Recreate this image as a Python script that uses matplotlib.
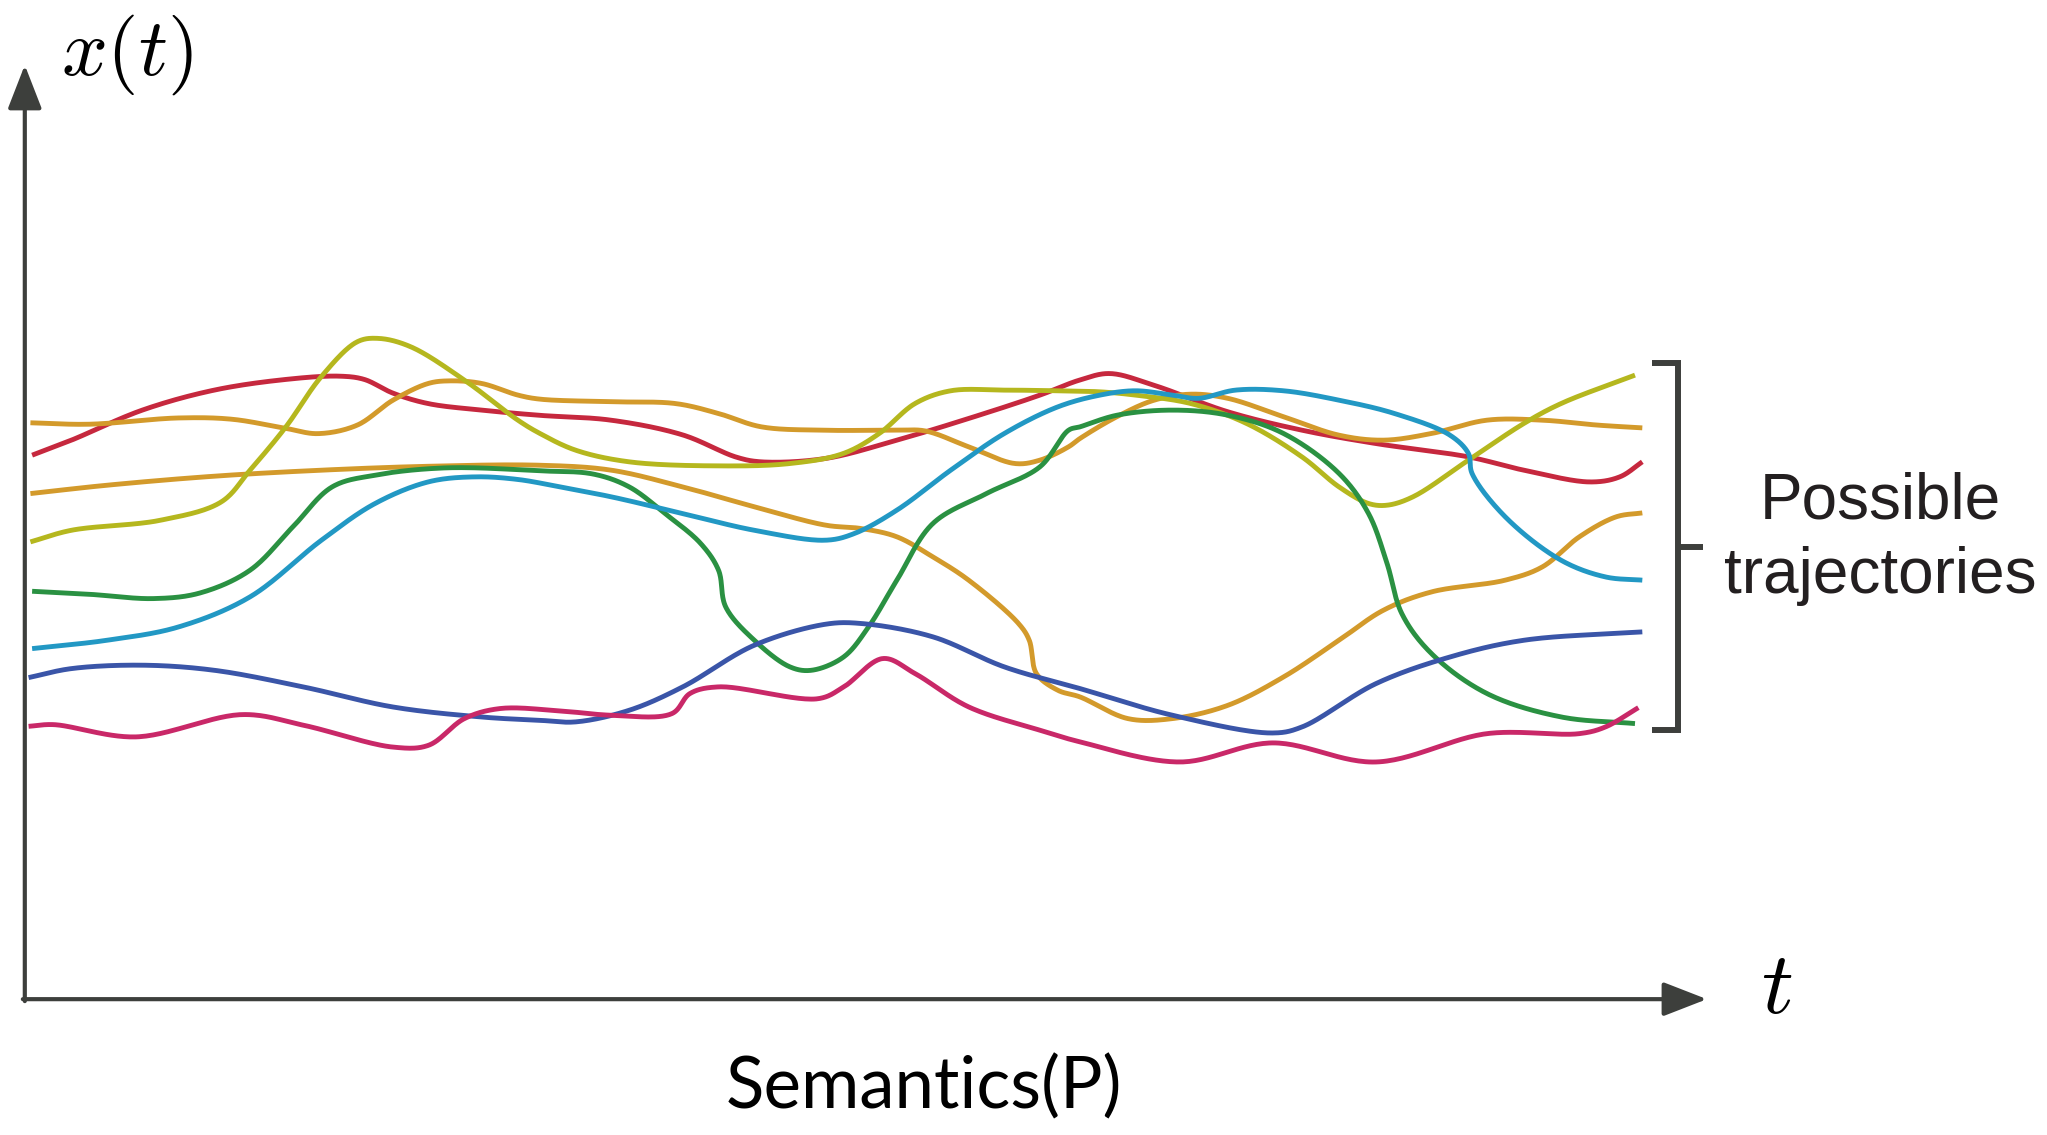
import numpy as np
import matplotlib
matplotlib.use("Agg")
import matplotlib.pyplot as plt

plt.rcParams['mathtext.fontset'] = 'cm'

# ---- data: time t and value x(t) for each trajectory (arbitrary units) ----
red_t = [5.6, 35.7, 90, 145, 200, 241, 260, 282, 309, 350, 394.6, 449, 504, 545, 564, 613.5, 668, 723, 777.6, 808, 831, 865, 921.6, 978, 1035, 1105.8, 1148.3, 1199.4, 1222, 1239]
red_x = [416.5, 428, 451, 466.3, 474.5, 477, 474.5, 464, 456, 451, 447, 443.3, 432, 415, 411.4, 414, 428, 444.6, 462.5, 474, 479, 470, 449.7, 435.7, 425.4, 415.2, 405, 396, 400, 411.4]

goldA_t = [4.3, 49.4, 117.8, 158.8, 200, 224.5, 254.6, 282, 309, 325.7, 350, 377.7, 394.6, 449.3, 498.6, 531.4, 564.2, 613.5, 668, 690, 723, 758.5, 777.6, 799.5, 808.3, 836.6, 865, 893.3, 921.6, 964, 1006.7, 1040.7, 1077.5, 1120, 1162.5, 1205, 1239]
goldA_x = [441.3, 440.2, 445, 444, 437, 433, 439.5, 458.6, 471.4, 473.4, 471.4, 462.5, 459.4, 457.4, 456, 448.4, 438.2, 435.6, 435.6, 435, 422.9, 410.1, 412.7, 422.9, 429.3, 446, 458.6, 463.2, 460, 446, 431.8, 428, 433.1, 443.3, 443.3, 439.5, 437.4]

goldB_t = [4.3, 63, 145, 227, 309, 394.6, 449.3, 504, 558.8, 613.5, 640.8, 668, 695.6, 723, 761.2, 769.4, 774.9, 791.3, 808.3, 845, 879, 921.6, 964.2, 1006.7, 1040.7, 1077.5, 1134, 1162.5, 1190.8, 1219, 1239]
goldB_x = [387.1, 393.5, 400.4, 405, 408, 408.8, 405, 392.2, 377, 362.9, 360.3, 354, 338.6, 320.8, 287.6, 274.8, 249.3, 236.5, 231.4, 214.8, 214.8, 225, 246.7, 274.8, 297.8, 311.8, 320.8, 331, 354, 369.3, 372.3]

yellow_t = [4.3, 35.7, 104, 150.6, 172.5, 200, 227, 254.6, 271, 295.6, 336.7, 377.7, 394.6, 422, 463, 531.4, 586, 627, 654.5, 682, 709.2, 750, 791.3, 823.6, 850.8, 893.3, 935.8, 978.3, 1006.7, 1029.3, 1043.5, 1063.3, 1105.8, 1148.3, 1176.7, 1233.4]
yellow_x = [350.1, 359, 366.7, 380.8, 405, 438.2, 476.5, 503.3, 505.9, 499.5, 474, 443.3, 433.1, 420.3, 411.4, 408.3, 410.1, 417.8, 433.1, 456.1, 465.8, 466.3, 465.8, 465, 462.5, 456, 440.8, 415.2, 392.2, 379.5, 378.2, 384.6, 412.7, 440.8, 456, 477.8]

green_t = [5.6, 49.4, 98.6, 134.2, 172.5, 205.3, 235.4, 268.3, 323, 394.6, 435.6, 463, 490.4, 517.7, 531.4, 536.9, 558.8, 586.1, 602.5, 627.2, 646.3, 668, 695.6, 736.6, 777.6, 799.5, 808.3, 836.6, 879.1, 921.6, 964.2, 1006.7, 1029.3, 1043.5, 1054.8, 1077.5, 1120, 1176.7, 1233.4]
green_x = [312.3, 310, 306.7, 311, 328.4, 361.6, 392.2, 401.2, 406.8, 404.5, 402, 392.2, 371.8, 348.9, 328.4, 300.3, 274.8, 254.4, 251.8, 262, 285, 320.8, 364.2, 387.1, 407.6, 435.6, 438.2, 447.1, 451, 447.1, 433.1, 402.5, 371.8, 333.5, 295.2, 264.6, 234, 216.1, 211]

cyan_t = [5.6, 63, 117.8, 172.5, 227.2, 268.3, 309.3, 344.9, 377.7, 410, 449.3, 504, 558.8, 613.5, 635.4, 668, 709.2, 750.3, 791.3, 823.6, 850.8, 879, 899, 927.3, 964.2, 1006.7, 1049.2, 1091.7, 1105.8, 1108.6, 1134, 1176.7, 1210.7, 1239]
cyan_x = [268.4, 274.8, 285, 308, 351.4, 379.5, 396.1, 399.9, 397.9, 392.2, 384.6, 371.8, 359, 351.4, 356.5, 374.4, 405, 433.1, 453.5, 462.5, 465.8, 462.5, 460, 466.3, 465.8, 458.6, 448.4, 431.8, 417.8, 402.5, 369.3, 336.1, 323.3, 320.8]

blue_t = [2.9, 35.7, 90.4, 145.2, 213.6, 282, 350.3, 394.6, 422, 463, 504, 558.8, 613.5, 641, 695.6, 750.3, 808.3, 879, 955.6, 978.3, 1035, 1091.7, 1148.3, 1239]
blue_x = [246.2, 253.1, 255.7, 251.8, 239, 223.7, 216, 213.5, 212.3, 221.2, 239.1, 271, 287.1, 287.6, 277.4, 254.4, 237.8, 217.4, 203.8, 208.4, 241.6, 262, 274.8, 281.2]

pink_t = [2.9, 22, 85, 167, 213.6, 282, 309.3, 336.7, 364, 410, 449.3, 495.8, 509.5, 531.4, 608, 627.2, 657.3, 681.9, 722.9, 777.6, 808.3, 884.8, 955.6, 1035, 1120, 1190.8, 1210.7, 1236]
pink_x = [208.9, 210.2, 200.8, 217.9, 209.7, 193, 194.4, 214.8, 222.5, 220.7, 217.4, 218.7, 234, 239.1, 230.1, 239, 260.8, 249.3, 223.8, 205.9, 197, 181.6, 196.2, 181.6, 203.3, 203.3, 208.4, 223.2]

series = [
    (red_t, red_x, "#c6283e"),
    (goldA_t, goldA_x, "#d39a2b"),
    (goldB_t, goldB_x, "#d39a2b"),
    (yellow_t, yellow_x, "#b5b71e"),
    (green_t, green_x, "#2a9142"),
    (cyan_t, cyan_x, "#2298c4"),
    (blue_t, blue_x, "#3a55a8"),
    (pink_t, pink_x, "#c92868"),
]


def catmull_rom(xs, ys, n=30):
    P = np.column_stack([xs, ys]).astype(float)
    P = np.vstack([2 * P[0] - P[1], P, 2 * P[-1] - P[-2]])
    out = []
    for i in range(len(P) - 3):
        p0, p1, p2, p3 = P[i:i + 4]
        t0 = 0.0
        t1 = t0 + max(np.linalg.norm(p1 - p0), 1e-6) ** 0.5
        t2 = t1 + max(np.linalg.norm(p2 - p1), 1e-6) ** 0.5
        t3 = t2 + max(np.linalg.norm(p3 - p2), 1e-6) ** 0.5
        t = np.linspace(t1, t2, n, endpoint=False)[:, None]
        A1 = (t1 - t) / (t1 - t0) * p0 + (t - t0) / (t1 - t0) * p1
        A2 = (t2 - t) / (t2 - t1) * p1 + (t - t1) / (t2 - t1) * p2
        A3 = (t3 - t) / (t3 - t2) * p2 + (t - t2) / (t3 - t2) * p3
        B1 = (t2 - t) / (t2 - t0) * A1 + (t - t0) / (t2 - t0) * A2
        B2 = (t3 - t) / (t3 - t1) * A2 + (t - t1) / (t3 - t1) * A3
        C = (t2 - t) / (t2 - t1) * B1 + (t - t1) / (t2 - t1) * B2
        out.append(C)
    out.append(P[-2][None, :])
    C = np.vstack(out)
    return C[:, 0], C[:, 1]


fig = plt.figure(figsize=(20.47, 11.35), dpi=100)
ax = fig.add_axes([0, 0, 1, 1])
ax.set_xlim(-19, 1549)
ax.set_ylim(-104, 765)
ax.axis("off")

for ts, xs, col in series:
    sx, sy = catmull_rom(ts, xs)
    ax.plot(sx, sy, color=col, lw=3.5, solid_capstyle="butt", zorder=3)

axis_col = "#3d3f3c"
arrow = dict(arrowstyle="-|>,head_length=27,head_width=10.5", lw=3.0,
             color=axis_col, shrinkA=0, shrinkB=0, mutation_scale=1)
ax.annotate("", xy=(0, 715.2), xytext=(0, -1.5), arrowprops=arrow, zorder=4)
ax.annotate("", xy=(1288.5, 0), xytext=(-1.5, 0), arrowprops=arrow, zorder=4)

ax.text(78.3, 722.9, r"$x(t)$", fontsize=58, ha="center", va="center")
ax.text(1342, 8.2, r"$t$", fontsize=64, ha="center", va="center")

# bracket
bx, btop, bbot, bleft, bmid, bright = 1266.5, 487, 206, 1246.3, 346, 1285.6
ax.plot([bleft, bx, bx, bleft], [btop, btop, bbot, bbot], color=axis_col,
        lw=4.3, solid_joinstyle="miter", solid_capstyle="butt")
ax.plot([bx, bright], [bmid, bmid], color=axis_col, lw=4.3, solid_capstyle="butt")

ax.text(1421, 368.2, "Possible", fontsize=46, family="Liberation Sans",
        ha="center", va="baseline", color="#231f20")
ax.text(1421, 310.8, "trajectories", fontsize=46, family="Liberation Sans",
        ha="center", va="baseline", color="#231f20")

ax.text(707.5 - 19, -83.7, "Semantics(P)", fontsize=51, family="Lato",
        ha="center", va="baseline", color="black")

fig.savefig("out.png", dpi=100)
